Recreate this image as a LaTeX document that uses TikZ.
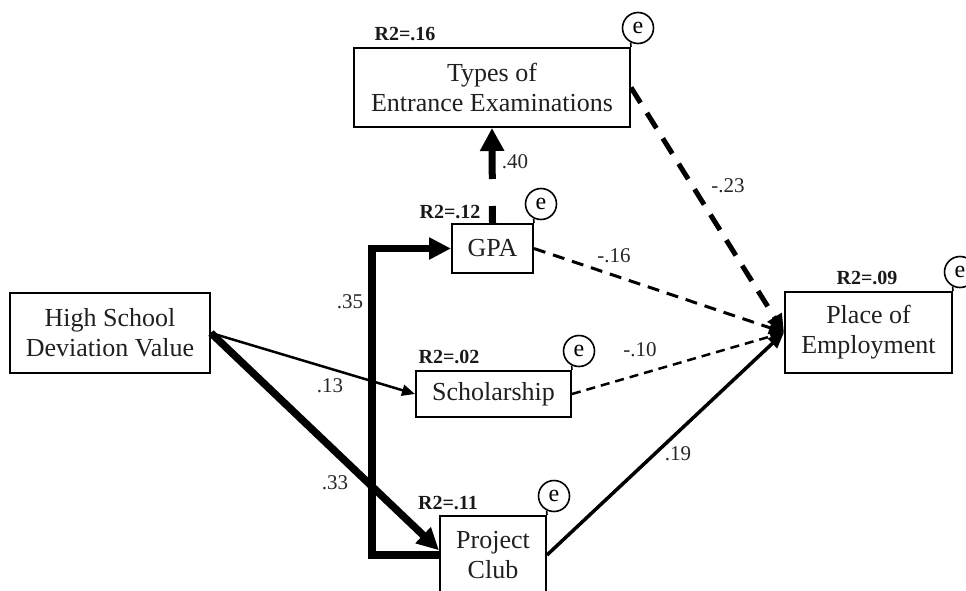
\documentclass[tikz,border=0pt]{standalone}
\usepackage{fontspec}
\setmainfont{Liberation Serif}
\usetikzlibrary{arrows.meta,calc}
\begin{document}
\begin{tikzpicture}[x=1pt,y=-1pt,
  box/.style={draw, line width=2pt, inner sep=0pt, align=center, text=black!88, font=\fontsize{26}{30}\selectfont},
  rtwo/.style={font=\bfseries\fontsize{20}{22}\selectfont, inner sep=0pt, text=black!90},
  coef/.style={font=\fontsize{21}{24}\selectfont, inner sep=0pt, text=black!85},
  ecirc/.style={draw, circle, line width=1.6pt, minimum size=31pt, inner sep=0pt, font=\fontsize{24}{24}\selectfont},
  etail/.style={line width=1.6pt},
  heavy/.style={line width=7.5pt, -{Triangle[length=22pt,width=21pt]}},
  thinarr/.style={line width=2.5pt, -{Triangle[length=13pt,width=11pt]}},
]
\useasboundingbox (0,0) rectangle (966,591);

% boxes
\node[box, minimum width=276pt, minimum height=79pt] (T) at (492,87.5) {Types of\\Entrance Examinations};
\node[box, minimum width=81pt, minimum height=49pt] (G) at (492.5,248.5) {GPA};
\node[box, minimum width=200pt, minimum height=80pt] (HS) at (110,333) {High School\\Deviation Value};
\node[box, minimum width=155pt, minimum height=46pt] (S) at (493.5,394) {Scholarship};
\node[box, minimum width=106pt, minimum height=78pt] (PC) at (493,555) {Project\\Club};
\node[box, minimum width=167pt, minimum height=81pt] (P) at (868.5,332.5) {Place of\\Employment};

% error circles
\foreach \n in {T,G,S,PC,P}{
  \node[ecirc] (e\n) at ($(\n.north east)+(7,-19)$) {e};
  \draw[etail] (\n.north east) -- (e\n.243);
}

% R2 labels
\node[rtwo] (rT) at (405,34) {R2=.16};
\node[rtwo] (rG) at (450,212) {R2=.12};
\node[rtwo] (rS) at (449,357) {R2=.02};
\node[rtwo] (rPC) at (448,503) {R2=.11};
\node[rtwo] (rP) at (867,278) {R2=.09};

% connectors
\draw[heavy] (PC.west) -- ++(-67,0) |- (G.west);
\draw[heavy] (HS.east) -- (PC.175);
\draw[thinarr] (HS.east) -- (S.west);
\draw[line width=7pt, dash pattern=on 17pt off 27pt on 200pt off 0pt, -{Triangle[length=23pt,width=23pt]}] (G.north) -- (T.south);
\draw[line width=5pt, dash pattern=on 18pt off 12pt, -{Triangle[length=18pt,width=16pt]}] (T.east) -- (P.west);
\draw[line width=3pt, dash pattern=on 12pt off 8pt, -{Triangle[length=15pt,width=13pt]}] (G.east) -- (P.west);
\draw[line width=2.5pt, dash pattern=on 9pt off 6pt, -{Triangle[length=14pt,width=11pt]}] (S.east) -- (P.west);
\draw[line width=3.5pt, -{Triangle[length=16pt,width=13pt]}] (PC.east) -- (P.west);

% coefficients
\node[coef] (c40) at (515,162) {.40};
\node[coef] (c35) at (350,302) {.35};
\node[coef] (c13) at (330,386) {.13};
\node[coef] (c33) at (335,483) {.33};
\node[coef] (c16) at (614,256) {-.16};
\node[coef] (c10) at (640,350) {-.10};
\node[coef] (c19) at (678,454) {.19};
\node[coef] (c23) at (728,186) {-.23};
\end{tikzpicture}
\end{document}
